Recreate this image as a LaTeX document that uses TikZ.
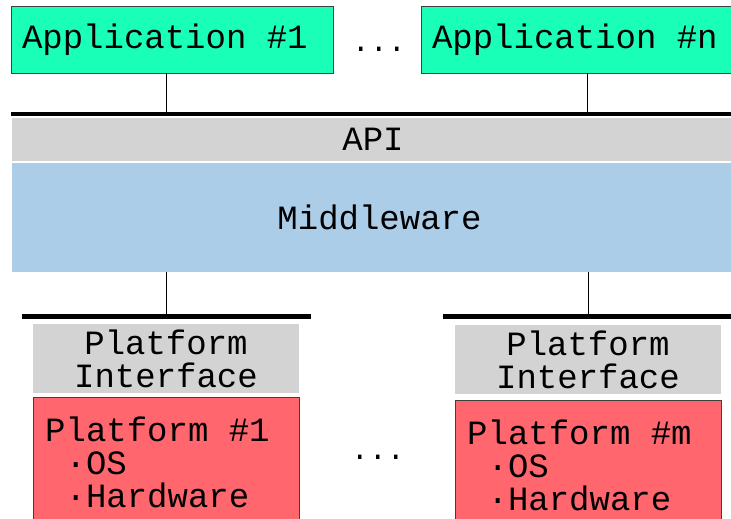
\documentclass[tikz,border=0pt]{standalone}
\usepackage{fontspec}
\newfontfamily\codefont{Liberation Mono}
\newcommand{\chsp}{\hspace*{0.6em}}
\definecolor{appgreen}{HTML}{1AFFB8}
\definecolor{mwblue}{HTML}{ACCDE8}
\definecolor{ifgray}{HTML}{D3D3D3}
\definecolor{platred}{HTML}{FF666E}
\definecolor{edge}{HTML}{404040}
\begin{document}
\begin{tikzpicture}[x=1pt,y=-1pt,
  font=\codefont\fontsize{34}{33}\selectfont,
  app/.style={rectangle,draw=edge,fill=appgreen,minimum height=67pt,text width=300pt,align=left,inner xsep=11pt,inner ysep=0pt},
  band/.style={rectangle,inner sep=0pt},
  bus/.style={rectangle,fill=black,inner sep=0pt,minimum height=4.5pt},
  iface/.style={rectangle,fill=ifgray,minimum width=266pt,minimum height=69pt,align=center,inner sep=0pt},
  platform/.style={rectangle,draw=edge,fill=platred,anchor=north west,text width=242pt,align=left,inner xsep=12pt,inner ysep=20pt},
  dots/.style={font=\codefont\fontsize{30}{30}\selectfont},
  link/.style={draw=black,line width=1pt}]
\useasboundingbox (0,0) rectangle (731,519);
\node[app] (app1) at (172,39.5) {Application\chsp\#1};
\node[dots] (appdots) at (379,49) {...};
\node[app] (appn) at (582,39.5) {Application\chsp\#n};
\coordinate (tap1) at (166,114);
\coordinate (tapn) at (587,114);
\draw[link] (app1.south -| tap1)--(tap1);
\draw[link] (appn.south -| tapn)--(tapn);
\node[bus,minimum width=722pt] (apibus) at (372,114) {};
\node[band,fill=ifgray,minimum width=722pt,minimum height=43pt] (api) at (373,139.5) {API};
\node[band,fill=mwblue,minimum width=735pt,minimum height=109pt] (mw) at (379.5,217.5) {Middleware};
\node[bus,minimum width=289pt] (pbus1) at (166.5,316.5) {};
\node[bus,minimum width=290pt] (pbus2) at (588,316.5) {};
\draw[link] (mw.south -| pbus1)--(pbus1);
\draw[link] (mw.south -| pbus2)--(pbus2);
\node[iface] (iface1) at (166,358.5) {Platform\\Interface};
\node[iface] (iface2) at (588,359.5) {Platform\\Interface};
\node[platform] (plat1) at (33,397) {Platform\chsp\#1\\\chsp·OS\\\chsp·Hardware};
\node[dots] (platdots) at (378,457.5) {...};
\node[platform] (plat2) at (455,399.5) {Platform\chsp\#m\\\chsp·OS\\\chsp·Hardware};
\end{tikzpicture}
\end{document}
